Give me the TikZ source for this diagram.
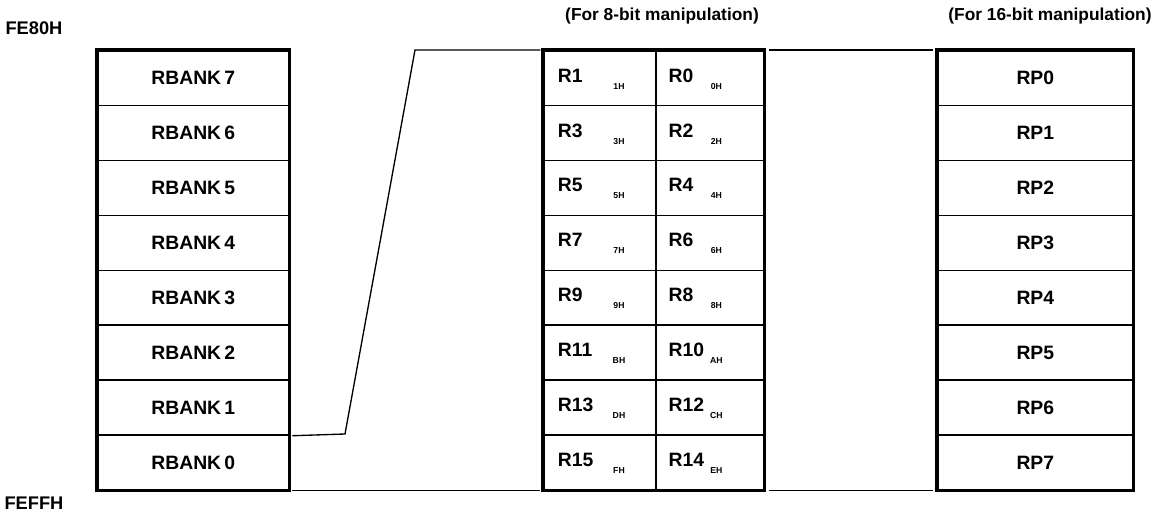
\documentclass[tikz,border=0pt]{standalone}
\usepackage{fontspec}
\setmainfont{Liberation Sans}
\begin{document}
\begin{tikzpicture}[x=0.75pt,y=-0.75pt,
  txt/.style={font=\fontsize{14.5}{16}\selectfont\bfseries, inner sep=0pt},
  ttl/.style={font=\fontsize{13}{15}\selectfont\bfseries, inner sep=0pt},
  sub/.style={font=\fontsize{6.5}{6.5}\selectfont\bfseries, inner sep=0pt},
  cellbox/.style={draw, line width=1.2pt, inner sep=0pt, anchor=north west, minimum height=41.16pt},
  outer/.style={line width=2.6pt, line join=miter},
  conn/.style={line width=1pt}]
\useasboundingbox (0,0) rectangle (1158,517);

\node[ttl, font=\fontsize{13.7}{15}\selectfont\bfseries] (fe80) at (34,28) {FE80H};
\node[ttl, font=\fontsize{13.7}{15}\selectfont\bfseries] (feff) at (34,503) {FEFFH};
\node[ttl] (t8) at (662,16) {(For 8-bit manipulation)};
\node[ttl] (t16) at (1050,16) {(For 16-bit manipulation)};

\foreach \r/\b/\la/\ra/\ls/\rs in {0/7/1/0/1H/0H,1/6/3/2/3H/2H,2/5/5/4/5H/4H,3/4/7/6/7H/6H,4/3/9/8/9H/8H,5/2/11/10/BH/AH,6/1/13/12/DH/CH,7/0/15/14/FH/EH}{
  \pgfmathsetmacro{\yy}{50+\r*54.875}
  % left bank column
  \node[cellbox, minimum width=143.25pt] (L\b) at (97,\yy) {};
  \node[txt] (Lt\b) at (L\b.center) {RBANK\,\b};
  % 8-bit column
  \node[cellbox, minimum width=84pt] (ML\r) at (543,\yy) {};
  \node[cellbox, minimum width=81pt] (MR\r) at (655,\yy) {};
  \node[txt, anchor=west] (MLt\r) at ([xshift=11pt,yshift=2pt]ML\r.west) {R\la};
  \node[sub] (MLs\r) at ([xshift=57pt,yshift=-6pt]ML\r.west) {\ls};
  \node[txt, anchor=west] (MRt\r) at ([xshift=10pt,yshift=2pt]MR\r.west) {R\ra};
  \node[sub] (MRs\r) at ([xshift=46pt,yshift=-6pt]MR\r.west) {\rs};
  % 16-bit column
  \node[cellbox, minimum width=146.25pt] (P\r) at (937,\yy) {};
  \node[txt] (Pt\r) at (P\r.center) {RP\r};
}

% thick outer frames
\draw[outer] (L7.north west) rectangle (L0.south east);
\draw[outer] (ML0.north west) rectangle (MR7.south east);
\draw[outer] (P0.north west) rectangle (P7.south east);

% connectors
\coordinate (k1) at (345,434);
\coordinate (k2) at (415,50);
\draw[conn] ([xshift=2pt]L1.south east) -- (k1) -- (k2) -- ([xshift=-2pt]ML0.north west);
\draw[conn] ([xshift=2pt]L0.south east) -- ([xshift=-2pt]ML7.south west);
\draw[conn] ([xshift=3pt]MR0.north east) -- ([xshift=-3pt]P0.north west);
\draw[conn] ([xshift=3pt]MR7.south east) -- ([xshift=-3pt]P7.south west);
\end{tikzpicture}
\end{document}
